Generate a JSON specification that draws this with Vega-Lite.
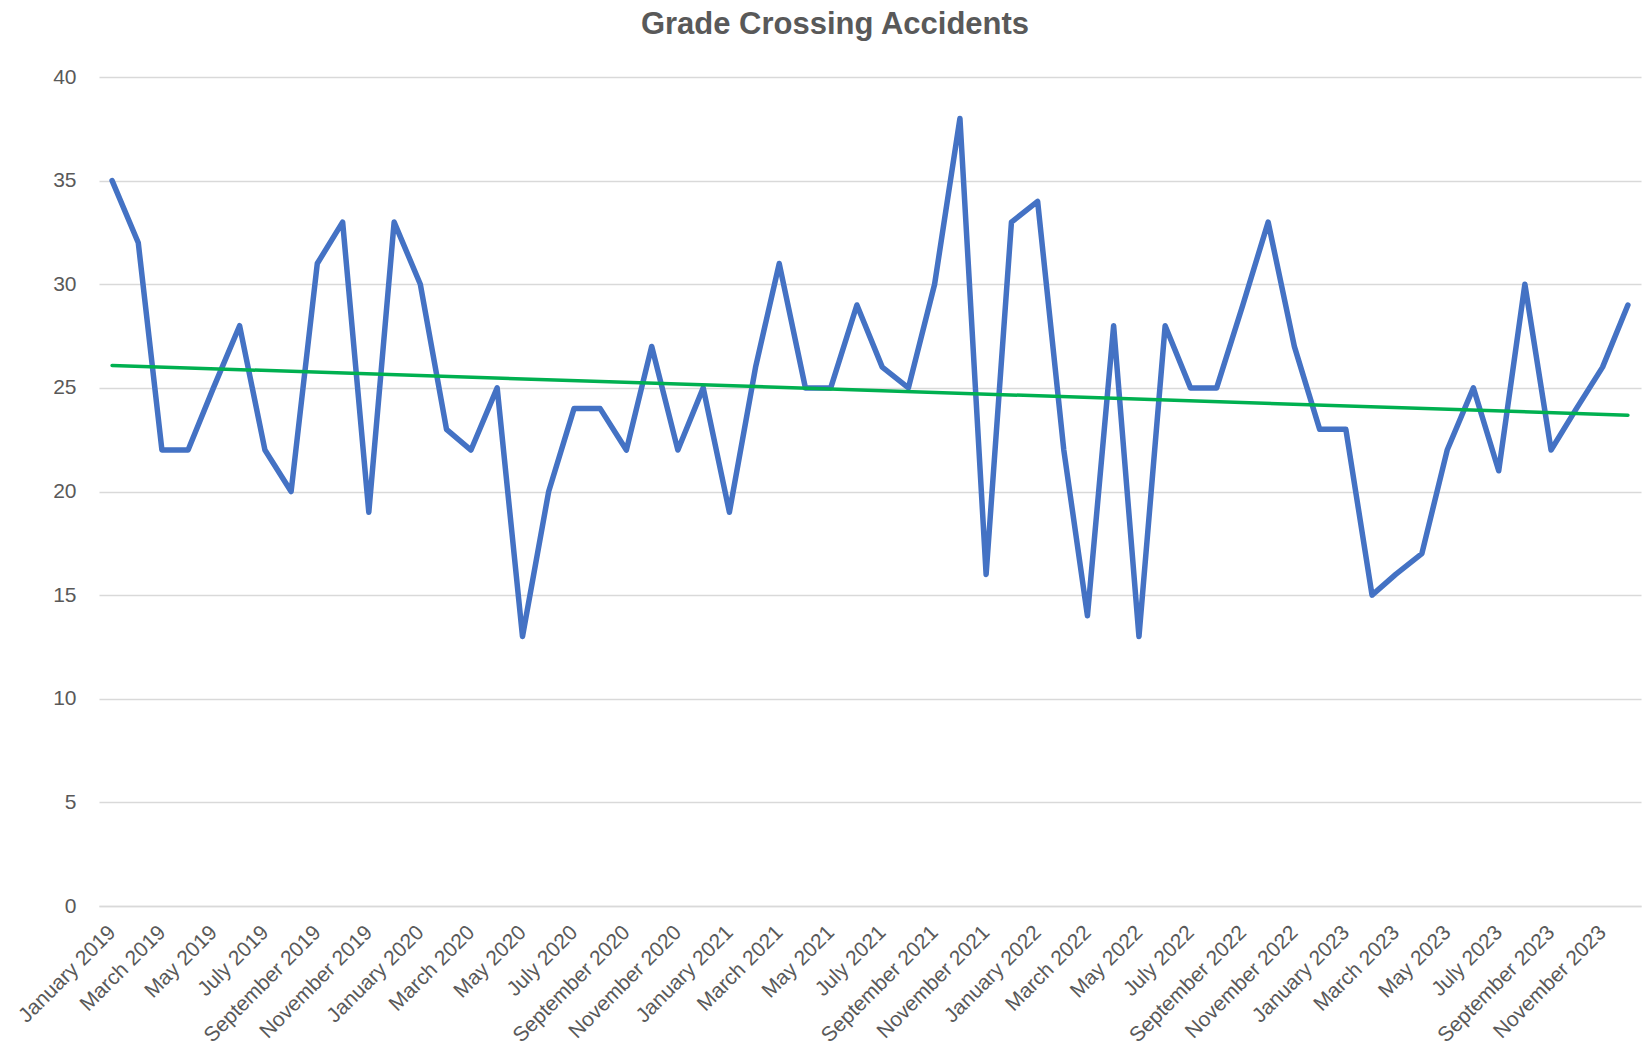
{
  "$schema": "https://vega.github.io/schema/vega-lite/v6.json",
  "width": 1542,
  "height": 829,
  "autosize": {"type": "none"},
  "padding": {"left": 99, "top": 77, "right": 2, "bottom": 148},
  "background": "white",
  "title": {
    "text": "Grade Crossing Accidents",
    "font": "Liberation Sans",
    "fontSize": 31,
    "fontWeight": "bold",
    "color": "#595959",
    "anchor": "middle",
    "frame": "group",
    "offset": 25,
    "dx": -35
  },
  "config": {
    "view": {"stroke": null},
    "axis": {
      "labelFont": "Liberation Sans",
      "labelFontSize": 21,
      "labelColor": "#595959"
    }
  },
  "data": {
    "format": {"parse": {"date": "date"}},
    "values": [
      {"date": "2019-01-01", "accidents": 35},
      {"date": "2019-02-01", "accidents": 32},
      {"date": "2019-03-01", "accidents": 22},
      {"date": "2019-04-01", "accidents": 22},
      {"date": "2019-05-01", "accidents": 25},
      {"date": "2019-06-01", "accidents": 28},
      {"date": "2019-07-01", "accidents": 22},
      {"date": "2019-08-01", "accidents": 20},
      {"date": "2019-09-01", "accidents": 31},
      {"date": "2019-10-01", "accidents": 33},
      {"date": "2019-11-01", "accidents": 19},
      {"date": "2019-12-01", "accidents": 33},
      {"date": "2020-01-01", "accidents": 30},
      {"date": "2020-02-01", "accidents": 23},
      {"date": "2020-03-01", "accidents": 22},
      {"date": "2020-04-01", "accidents": 25},
      {"date": "2020-05-01", "accidents": 13},
      {"date": "2020-06-01", "accidents": 20},
      {"date": "2020-07-01", "accidents": 24},
      {"date": "2020-08-01", "accidents": 24},
      {"date": "2020-09-01", "accidents": 22},
      {"date": "2020-10-01", "accidents": 27},
      {"date": "2020-11-01", "accidents": 22},
      {"date": "2020-12-01", "accidents": 25},
      {"date": "2021-01-01", "accidents": 19},
      {"date": "2021-02-01", "accidents": 26},
      {"date": "2021-03-01", "accidents": 31},
      {"date": "2021-04-01", "accidents": 25},
      {"date": "2021-05-01", "accidents": 25},
      {"date": "2021-06-01", "accidents": 29},
      {"date": "2021-07-01", "accidents": 26},
      {"date": "2021-08-01", "accidents": 25},
      {"date": "2021-09-01", "accidents": 30},
      {"date": "2021-10-01", "accidents": 38},
      {"date": "2021-11-01", "accidents": 16},
      {"date": "2021-12-01", "accidents": 33},
      {"date": "2022-01-01", "accidents": 34},
      {"date": "2022-02-01", "accidents": 22},
      {"date": "2022-03-01", "accidents": 14},
      {"date": "2022-04-01", "accidents": 28},
      {"date": "2022-05-01", "accidents": 13},
      {"date": "2022-06-01", "accidents": 28},
      {"date": "2022-07-01", "accidents": 25},
      {"date": "2022-08-01", "accidents": 25},
      {"date": "2022-09-01", "accidents": 29},
      {"date": "2022-10-01", "accidents": 33},
      {"date": "2022-11-01", "accidents": 27},
      {"date": "2022-12-01", "accidents": 23},
      {"date": "2023-01-01", "accidents": 23},
      {"date": "2023-02-01", "accidents": 15},
      {"date": "2023-03-01", "accidents": 16},
      {"date": "2023-04-01", "accidents": 17},
      {"date": "2023-05-01", "accidents": 22},
      {"date": "2023-06-01", "accidents": 25},
      {"date": "2023-07-01", "accidents": 21},
      {"date": "2023-08-01", "accidents": 30},
      {"date": "2023-09-01", "accidents": 22},
      {"date": "2023-10-01", "accidents": 24},
      {"date": "2023-11-01", "accidents": 26},
      {"date": "2023-12-01", "accidents": 29}
    ]
  },
  "encoding": {
    "x": {
      "field": "date",
      "type": "temporal",
      "title": null,
      "scale": {
        "type": "utc",
        "domain": [
          {"year": 2018, "month": 12, "date": 16, "hours": 12, "utc": true},
          {"year": 2023, "month": 12, "date": 16, "hours": 12, "utc": true}
        ]
      },
      "axis": {
        "tickCount": {"interval": "month", "step": 2},
        "labelExpr": "utcFormat(datum.value, '%B %Y')",
        "labelAngle": -45,
        "labelAlign": "right",
        "labelBaseline": "middle",
        "labelPadding": 23,
        "labelOverlap": false,
        "labelFlush": false,
        "labelBound": false,
        "ticks": false,
        "grid": false,
        "domain": true,
        "domainColor": "#d9d9d9",
        "domainWidth": 1.5
      }
    },
    "y": {
      "field": "accidents",
      "type": "quantitative",
      "title": null,
      "scale": {"domain": [0, 40], "nice": false, "zero": true},
      "axis": {
        "values": [0, 5, 10, 15, 20, 25, 30, 35, 40],
        "domain": false,
        "ticks": false,
        "tickSize": 0,
        "labelPadding": 23,
        "grid": true,
        "gridColor": "#d9d9d9",
        "gridWidth": 1.5
      }
    }
  },
  "layer": [
    {
      "mark": {"type": "line", "color": "#4472C4", "strokeWidth": 5.5, "strokeJoin": "round", "strokeCap": "round"}
    },
    {
      "transform": [{"regression": "accidents", "on": "date"}],
      "mark": {"type": "line", "color": "#00B050", "strokeWidth": 3.5, "strokeCap": "round"}
    }
  ]
}
